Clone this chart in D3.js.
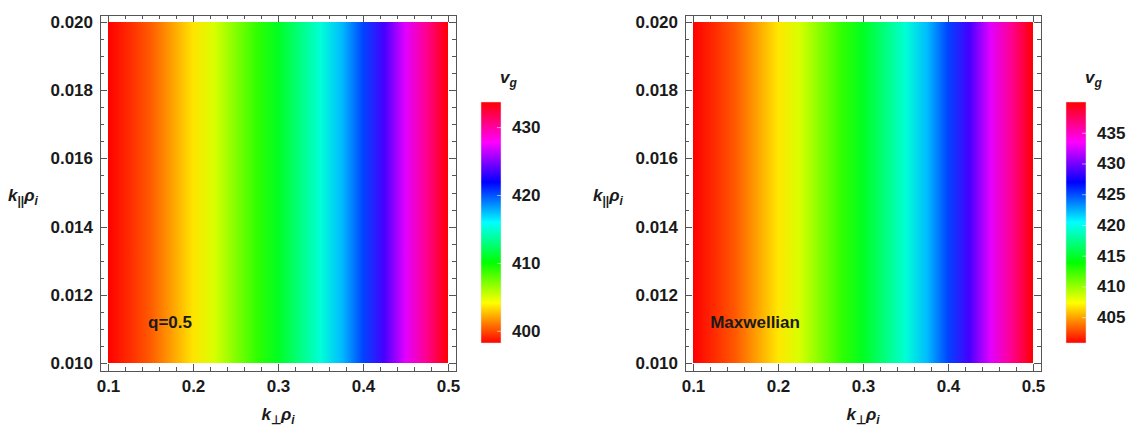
<!DOCTYPE html>
<html>
<head>
<meta charset="utf-8">
<script src="https://cdn.jsdelivr.net/npm/d3@7"></script>
<style>
  body { margin: 0; background: #fff; }
  text { font-family: "Liberation Sans", Arial, sans-serif; fill: #1a1a1a; }
</style>
</head>
<body>
<div id="chart-area"></div>
<script>
const W = 1129, H = 428

// k_perp rho_i grid and group velocity
const kperp = [0.100, 0.125, 0.150, 0.175, 0.200, 0.225, 0.250, 0.275, 0.300,
               0.325, 0.350, 0.375, 0.400, 0.425, 0.450, 0.475, 0.500]
const vgKappa = [398.2, 399.2, 400.3, 401.9, 403.5, 405.0, 407.0, 408.9, 410.8,
                 412.9, 415.0, 417.5, 420.3, 423.5, 427.1, 430.4, 433.7]
const vgMaxwell = [400.8, 401.9, 403.1, 404.9, 406.7, 408.3, 410.5, 412.6, 414.7,
                   417.0, 419.3, 422.1, 425.2, 428.7, 432.7, 436.3, 440.0]
const kparRange = [0.010, 0.020]

const xTicks = [0.1, 0.2, 0.3, 0.4, 0.5]
const yTicks = [0.010, 0.012, 0.014, 0.016, 0.018, 0.020]
const cbTicksKappa = [400, 410, 420, 430]
const cbTicksMaxwell = [405, 410, 415, 420, 425, 430, 435]

const panels = [
  { id: "q", ox: 100, vg: vgKappa, cbTicks: cbTicksKappa, label: "q=0.5" },
  { id: "m", ox: 685, vg: vgMaxwell, cbTicks: cbTicksMaxwell, label: "Maxwellian" }
]

const svg = d3.select("#chart-area").append("svg")
  .attr("width", W)
  .attr("height", H)
const defs = svg.append("defs")

const FRAME_TOP = 15, FRAME_BOTTOM = 371

function hueColor(domain) {
  return v => d3.hsl(360 * (v - domain[0]) / (domain[1] - domain[0]), 1, 0.5).toString()
}

panels.forEach(p => {
  const ox = p.ox
  const x = d3.scaleLinear().domain([0.1, 0.5]).range([ox + 8, ox + 348])
  const y = d3.scaleLinear().domain(kparRange).range([363, 22])
  const domain = d3.extent(p.vg)
  const color = hueColor(domain)

  // density map: gradient across k_perp with a stop per data point
  const grad = defs.append("linearGradient")
    .attr("id", "map-" + p.id)
    .attr("gradientUnits", "userSpaceOnUse")
    .attr("x1", x(0.1)).attr("x2", x(0.5))
    .attr("y1", 0).attr("y2", 0)
  grad.selectAll("stop")
    .data(kperp.map((k, i) => ({ k: k, v: p.vg[i] })))
    .join("stop")
    .attr("offset", d => (x(d.k) - x(0.1)) / (x(0.5) - x(0.1)))
    .attr("stop-color", d => color(d.v))

  svg.append("rect")
    .attr("x", x(0.1))
    .attr("y", y(kparRange[1]))
    .attr("width", x(0.5) - x(0.1))
    .attr("height", y(kparRange[0]) - y(kparRange[1]))
    .attr("fill", `url(#map-${p.id})`)

  // frame
  const fx0 = ox, fx1 = ox + 356
  svg.append("rect")
    .attr("x", fx0 + 0.5).attr("y", FRAME_TOP + 0.5)
    .attr("width", fx1 - fx0).attr("height", FRAME_BOTTOM - FRAME_TOP)
    .attr("fill", "none")
    .attr("stroke", "#555")

  const tickG = svg.append("g").attr("stroke", "#555").attr("stroke-width", 1)
  const xMinor = d3.range(0.1, 0.5001, 0.02)
  const yMinor = d3.range(0.010, 0.02001, 0.0005)
  const isMajorX = k => xTicks.some(t => Math.abs(t - k) < 1e-6)
  const isMajorY = k => yTicks.some(t => Math.abs(t - k) < 1e-7)

  xMinor.forEach(k => {
    const len = isMajorX(k) ? 7 : 4
    const px = Math.round(x(k)) + 0.5
    tickG.append("line").attr("x1", px).attr("x2", px)
      .attr("y1", FRAME_BOTTOM).attr("y2", FRAME_BOTTOM - len)
    tickG.append("line").attr("x1", px).attr("x2", px)
      .attr("y1", FRAME_TOP).attr("y2", FRAME_TOP + len)
  })
  yMinor.forEach(k => {
    const len = isMajorY(k) ? 7 : 4
    const py = Math.round(y(k)) + 0.5
    tickG.append("line").attr("y1", py).attr("y2", py)
      .attr("x1", fx0).attr("x2", fx0 + len)
    tickG.append("line").attr("y1", py).attr("y2", py)
      .attr("x1", fx1).attr("x2", fx1 - len)
  })

  // tick labels
  const xAxis = svg.append("g")
    .attr("transform", `translate(0, ${FRAME_BOTTOM})`)
    .call(d3.axisBottom(x).tickValues(xTicks).tickSize(0).tickPadding(9)
      .tickFormat(d3.format(".1f")))
  const yAxis = svg.append("g")
    .attr("transform", `translate(${fx0}, 0)`)
    .call(d3.axisLeft(y).tickValues(yTicks).tickSize(0).tickPadding(7)
      .tickFormat(d3.format(".3f")))
  ;[xAxis, yAxis].forEach(a => {
    a.select(".domain").remove()
    a.selectAll("text")
      .style("font-family", "'Liberation Sans', Arial, sans-serif")
      .style("font-size", "17px")
      .style("font-weight", "bold")
      .attr("fill", "#1a1a1a")
  })

  // axis labels
  const xl = svg.append("text")
    .attr("x", (x(0.1) + x(0.5)) / 2)
    .attr("y", 420)
    .attr("text-anchor", "middle")
    .style("font-size", "17px")
    .style("font-weight", "bold")
    .style("font-style", "italic")
  xl.append("tspan").text("k")
  xl.append("tspan").attr("font-size", "12px").attr("dy", 4).attr("font-style", "normal").text("⊥")
  xl.append("tspan").attr("dy", -4).text("ρ")
  xl.append("tspan").attr("font-size", "12px").attr("dy", 4).text("i")

  const yl = svg.append("text")
    .attr("x", ox - 92)
    .attr("y", 201)
    .style("font-size", "17px")
    .style("font-weight", "bold")
    .style("font-style", "italic")
  yl.append("tspan").text("k")
  yl.append("tspan").attr("font-size", "12px").attr("dy", 4).attr("font-style", "normal").text("||")
  yl.append("tspan").attr("dy", -4).text("ρ")
  yl.append("tspan").attr("font-size", "12px").attr("dy", 4).text("i")

  // annotation inside the map
  svg.append("text")
    .attr("x", x(0.173))
    .attr("y", y(0.0112) + 6)
    .attr("text-anchor", "middle")
    .style("font-size", "17px")
    .style("font-weight", "bold")
    .text(p.label)

  // colour bar
  const cbx = ox + 381, cbw = 20
  const cb = d3.scaleLinear().domain(domain).range([343, 102])
  const cbGrad = defs.append("linearGradient")
    .attr("id", "cb-" + p.id)
    .attr("x1", 0).attr("x2", 0).attr("y1", 1).attr("y2", 0)
  cbGrad.selectAll("stop")
    .data(d3.range(0, 1.0001, 1 / 24))
    .join("stop")
    .attr("offset", t => t)
    .attr("stop-color", t => color(domain[0] + t * (domain[1] - domain[0])))

  svg.append("rect")
    .attr("x", cbx).attr("y", cb(domain[1]))
    .attr("width", cbw).attr("height", cb(domain[0]) - cb(domain[1]))
    .attr("fill", `url(#cb-${p.id})`)
    .attr("stroke", "#ddd")
    .attr("stroke-width", 0.5)

  const cbAxis = svg.append("g")
    .attr("transform", `translate(${cbx + cbw}, 0)`)
    .call(d3.axisRight(cb).tickValues(p.cbTicks).tickSize(-4).tickPadding(11))
  cbAxis.select(".domain").remove()
  cbAxis.selectAll(".tick line").attr("stroke", "rgba(255,255,255,0.55)")
  cbAxis.selectAll("text")
    .style("font-family", "'Liberation Sans', Arial, sans-serif")
    .style("font-size", "17px")
    .style("font-weight", "bold")
    .attr("fill", "#1a1a1a")

  const vl = svg.append("text")
    .attr("x", cbx + cbw - 1)
    .attr("y", 83)
    .style("font-size", "17px")
    .style("font-weight", "bold")
    .style("font-style", "italic")
  vl.append("tspan").text("v")
  vl.append("tspan").attr("font-size", "12px").attr("dy", 4).text("g")
})
</script>
</body>
</html>
